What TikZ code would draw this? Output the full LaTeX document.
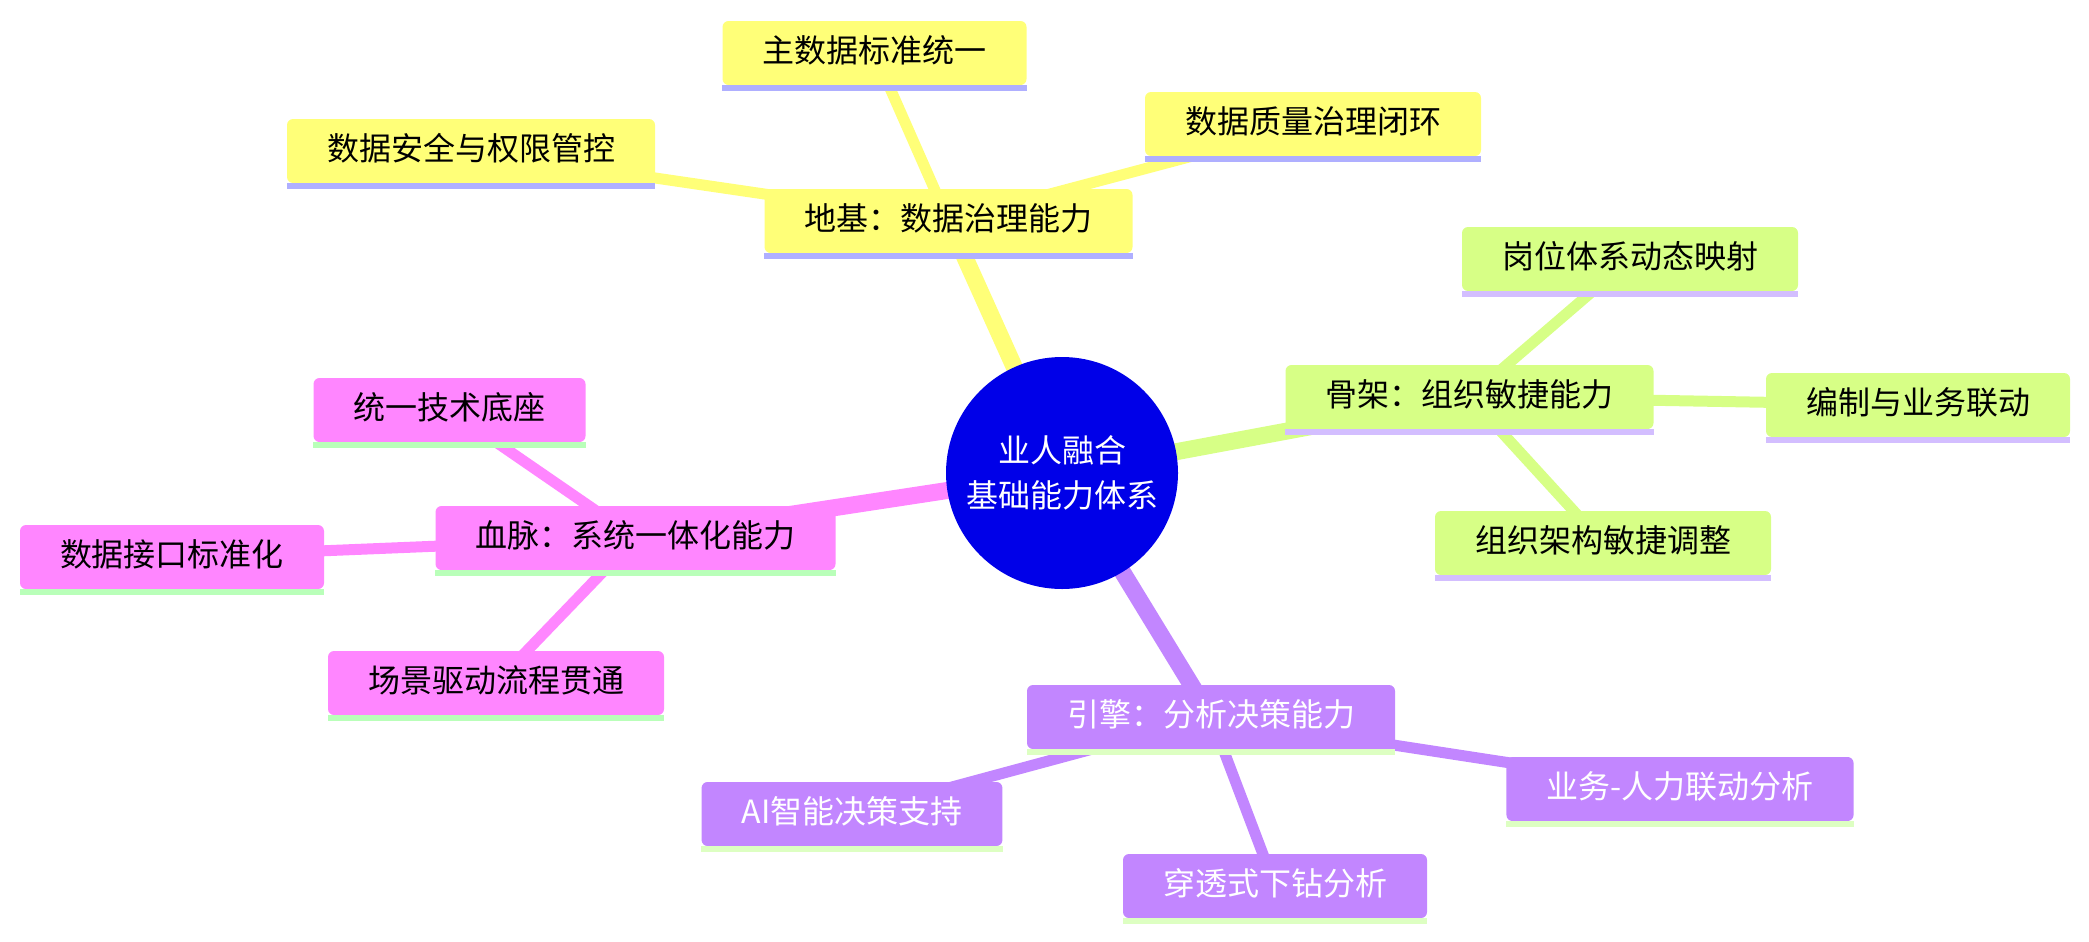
\documentclass[tikz,border=0pt]{standalone}
\usepackage{fontspec}
\setmainfont{Noto Sans CJK SC}
\usetikzlibrary{backgrounds}
\definecolor{cy}{HTML}{FFFF78}
\definecolor{cg}{HTML}{D7FF86}
\definecolor{cp}{HTML}{FF86FF}
\definecolor{cv}{HTML}{C286FF}
\definecolor{uy}{HTML}{AFAFFF}
\definecolor{ug}{HTML}{D3BEFF}
\definecolor{up}{HTML}{B9FFB9}
\definecolor{uv}{HTML}{DDFFC2}
\definecolor{rootc}{HTML}{0000E8}
\tikzset{
  mm/.style={rounded corners=3pt, minimum height=32pt, inner xsep=20pt, inner ysep=0pt,
    text height=12.5pt, text depth=3.5pt, font=\fontsize{16pt}{19pt}\selectfont},
  ynode/.style={mm, fill=cy, text=black},
  gnode/.style={mm, fill=cg, text=black},
  pnode/.style={mm, fill=cp, text=black},
  vnode/.style={mm, fill=cv, text=white},
  thick edge/.style={line width=8.5pt},
  thin edge/.style={line width=5.5pt},
}
\newcommand{\uline}[2]{\fill[#2] (#1.south west) rectangle ([yshift=-2.75pt]#1.south east);}
\begin{document}
\begin{tikzpicture}[x=0.5pt,y=-0.5pt]
\useasboundingbox (0,0) rectangle (2089,942);
% root
\node[circle, fill=rootc, minimum size=116pt, inner sep=0pt, text=white, align=center,
  font=\fontsize{16pt}{22.5pt}\selectfont] (root) at (1062,473) {业人融合\\基础能力体系};
% yellow
\node[ynode] (y0) at (948.5,221) {地基：数据治理能力};
\node[ynode] (y1) at (874.5,53) {主数据标准统一};
\node[ynode] (y2) at (1313,124) {数据质量治理闭环};
\node[ynode] (y3) at (471,151) {数据安全与权限管控};
% green
\node[gnode] (g0) at (1469.5,397) {骨架：组织敏捷能力};
\node[gnode] (g1) at (1630,259) {岗位体系动态映射};
\node[gnode] (g2) at (1918,405) {编制与业务联动};
\node[gnode] (g3) at (1603,543) {组织架构敏捷调整};
% pink
\node[pnode] (p0) at (635.5,538) {血脉：系统一体化能力};
\node[pnode] (p1) at (449.5,410) {统一技术底座};
\node[pnode] (p2) at (172,557) {数据接口标准化};
\node[pnode] (p3) at (496,683) {场景驱动流程贯通};
% purple
\node[vnode] (v0) at (1211,717) {引擎：分析决策能力};
\node[vnode] (v1) at (852,814) {AI智能决策支持};
\node[vnode] (v2) at (1275,886) {穿透式下钻分析};
\node[vnode] (v3) at (1680,789) {业务-人力联动分析};
% underlines
\uline{y0}{uy}\uline{y1}{uy}\uline{y2}{uy}\uline{y3}{uy}
\uline{g0}{ug}\uline{g1}{ug}\uline{g2}{ug}\uline{g3}{ug}
\uline{p0}{up}\uline{p1}{up}\uline{p2}{up}\uline{p3}{up}
\uline{v0}{uv}\uline{v1}{uv}\uline{v2}{uv}\uline{v3}{uv}
\begin{scope}[on background layer]
\draw[cy, thick edge] (root.center) -- (y0.center);
\draw[cg, thick edge] (root.center) -- (g0.center);
\draw[cp, thick edge] (root.center) -- (p0.center);
\draw[cv, thick edge] (root.center) -- (v0.center);
\draw[cy, thin edge] (y0.center) -- (y1.center);
\draw[cy, thin edge] (y0.center) -- (y2.center);
\draw[cy, thin edge] (y0.center) -- (y3.center);
\draw[cg, thin edge] (g0.center) -- (g1.center);
\draw[cg, thin edge] (g0.center) -- (g2.center);
\draw[cg, thin edge] (g0.center) -- (g3.center);
\draw[cp, thin edge] (p0.center) -- (p1.center);
\draw[cp, thin edge] (p0.center) -- (p2.center);
\draw[cp, thin edge] (p0.center) -- (p3.center);
\draw[cv, thin edge] (v0.center) -- (v1.center);
\draw[cv, thin edge] (v0.center) -- (v2.center);
\draw[cv, thin edge] (v0.center) -- (v3.center);
\end{scope}
\end{tikzpicture}
\end{document}
